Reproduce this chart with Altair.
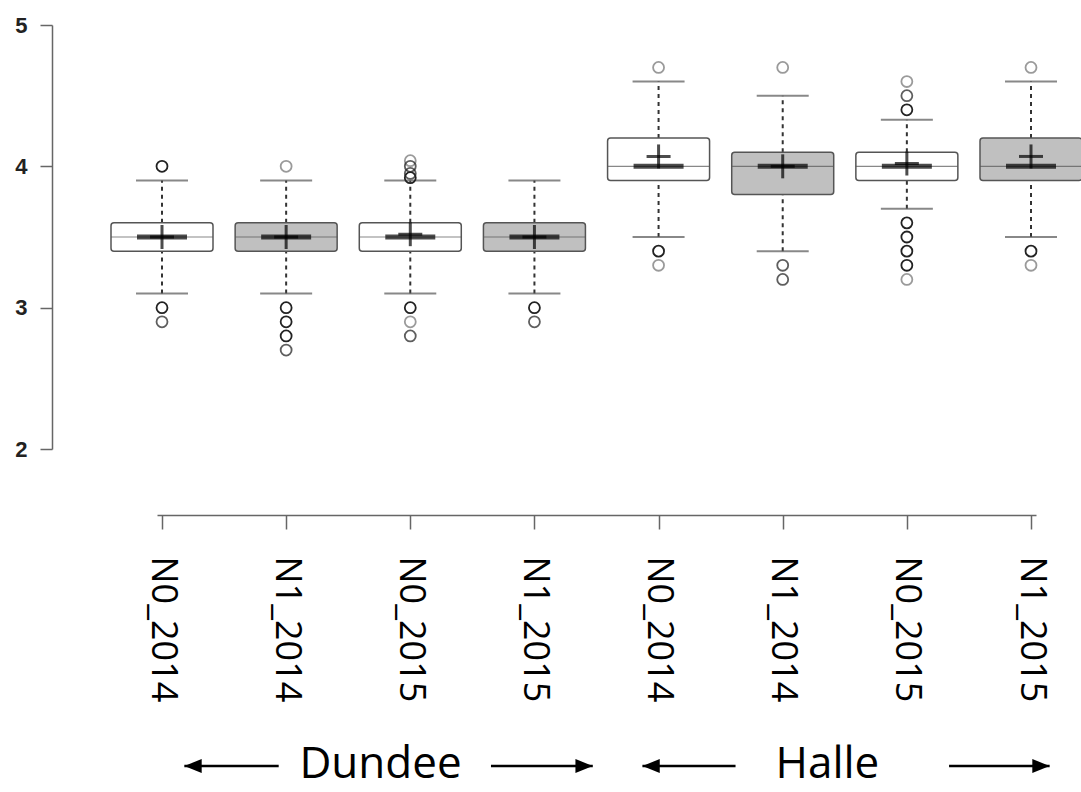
import json
import altair as alt
import pandas as pd

# Box-plot summaries, one entry per site / treatment / year
sites = ["Dundee", "Dundee", "Dundee", "Dundee", "Halle", "Halle", "Halle", "Halle"]
labels = ["N0_2014", "N1_2014", "N0_2015", "N1_2015",
          "N0_2014", "N1_2014", "N0_2015", "N1_2015"]
q1 = [3.4, 3.4, 3.4, 3.4, 3.9, 3.8, 3.9, 3.9]
q3 = [3.6, 3.6, 3.6, 3.6, 4.2, 4.1, 4.1, 4.2]
medians = [3.5, 3.5, 3.5, 3.5, 4.0, 4.0, 4.0, 4.0]
means = [3.5, 3.5, 3.52, 3.5, 4.07, 4.0, 4.02, 4.07]
whisker_low = [3.1, 3.1, 3.1, 3.1, 3.5, 3.4, 3.7, 3.5]
whisker_high = [3.9, 3.9, 3.9, 3.9, 4.6, 4.5, 4.33, 4.6]

# Outlying observations: box number, value, number of coinciding points
outlier_box = [1, 1, 1,
               2, 2, 2, 2, 2,
               3, 3, 3, 3, 3, 3, 3,
               4, 4,
               5, 5, 5,
               6, 6, 6,
               7, 7, 7, 7, 7, 7, 7, 7,
               8, 8, 8]
outlier_value = [4.0, 3.0, 2.9,
                 4.0, 3.0, 2.9, 2.8, 2.7,
                 4.04, 4.0, 3.95, 3.92, 3.0, 2.9, 2.8,
                 3.0, 2.9,
                 4.7, 3.4, 3.3,
                 4.7, 3.3, 3.2,
                 4.6, 4.5, 4.4, 3.6, 3.5, 3.4, 3.3, 3.2,
                 4.7, 3.4, 3.3]
outlier_count = [3, 3, 2,
                 1, 3, 3, 3, 2,
                 1, 2, 2, 3, 3, 1, 2,
                 3, 2,
                 1, 3, 1,
                 1, 2, 2,
                 1, 2, 3, 3, 3, 3, 3, 1,
                 1, 3, 1]

# Site annotation under the axis: label centre and the two arrows (tail, tip)
region_names = ["Dundee", "Halle"]
region_centre = [2.76, 6.36]
left_arrow_tip = [1.18, 4.87]
left_arrow_tail = [1.94, 5.62]
right_arrow_tail = [3.65, 7.34]
right_arrow_tip = [4.47, 8.15]

boxes = pd.DataFrame({
    "pos": list(range(1, len(labels) + 1)),
    "site": sites,
    "label": labels,
    "treatment": [s.split("_")[0] for s in labels],
    "q1": q1, "q3": q3, "median": medians, "mean": means,
    "lo": whisker_low, "hi": whisker_high,
})
outliers = pd.DataFrame({"pos": outlier_box, "value": outlier_value,
                         "count": outlier_count})
regions = pd.DataFrame({
    "name": region_names, "centre": region_centre,
    "ltip": left_arrow_tip, "ltail": left_arrow_tail,
    "rtail": right_arrow_tail, "rtip": right_arrow_tip,
})

label_expr = json.dumps(labels) + "[datum.value - 1]"

x_scale = alt.Scale(domain=[1, 8], nice=False, zero=False)
y_scale = alt.Scale(domain=[2, 5], nice=False, zero=False)

x_axis = alt.Axis(values=list(range(1, 9)), labelExpr=label_expr, title=None,
                  offset=66, tickSize=14, labelAngle=90, labelPadding=27,
                  labelFont="Open Sans", labelFontSize=36, labelColor="#000",
                  domainColor="#666", tickColor="#666", domainWidth=1.5,
                  tickWidth=1.5, grid=False, labelFlush=False, labelOverlap=False)
y_axis = alt.Axis(values=[2, 3, 4, 5], format="d", title=None, offset=105,
                  tickSize=12, labelPadding=13, labelFont="Liberation Sans",
                  labelFontSize=22, labelFontWeight="bold", labelColor="#222",
                  domainColor="#666", tickColor="#666", domainWidth=1.5,
                  tickWidth=1.5, grid=False)

X = alt.X("pos:Q", scale=x_scale, axis=x_axis)
base = alt.Chart(boxes)

upper_whisker = base.mark_rule(color="#333", strokeWidth=2, strokeDash=[4, 4]).encode(
    x=X, y=alt.Y("q3:Q", scale=y_scale, axis=y_axis), y2="hi:Q")
lower_whisker = base.mark_rule(color="#333", strokeWidth=2, strokeDash=[4, 4]).encode(
    x="pos:Q", y="lo:Q", y2="q1:Q")
caps_hi = base.mark_tick(orient="horizontal", size=52, thickness=2, color="#555").encode(
    x="pos:Q", y="hi:Q")
caps_lo = base.mark_tick(orient="horizontal", size=52, thickness=2, color="#555").encode(
    x="pos:Q", y="lo:Q")
box = base.mark_bar(size=102, stroke="#555", strokeWidth=1.5, cornerRadius=3).encode(
    x="pos:Q", y="q1:Q", y2="q3:Q",
    fill=alt.Fill("treatment:N", scale=alt.Scale(domain=["N0", "N1"],
                                                 range=["#ffffff", "#c0c0c0"]),
                  legend=None))
median_thin = base.mark_tick(orient="horizontal", size=102, thickness=1.2,
                             color="#555").encode(x="pos:Q", y="median:Q")
median_thick = base.mark_tick(orient="horizontal", size=50, thickness=5,
                              color="#000").encode(x="pos:Q", y="median:Q")
mean_h = base.mark_tick(orient="horizontal", size=24, thickness=3,
                        color="#000").encode(x="pos:Q", y="mean:Q")
mean_v = base.mark_tick(orient="vertical", size=24, thickness=3,
                        color="#000").encode(x="pos:Q", y="mean:Q")

outlier_pts = alt.Chart(outliers).mark_point(shape="circle", filled=False, size=120,
                                             strokeWidth=1.8, color="#222").encode(
    x="pos:Q", y="value:Q",
    opacity=alt.Opacity("count:Q", scale=alt.Scale(domain=[1, 3], range=[0.45, 1.0]),
                        legend=None))

rbase = alt.Chart(regions)
arrow_y = alt.value(741)
left_shaft = rbase.mark_rule(color="#000", strokeWidth=2.5).encode(
    x="ltip:Q", x2="ltail:Q", y=arrow_y)
right_shaft = rbase.mark_rule(color="#000", strokeWidth=2.5).encode(
    x="rtail:Q", x2="rtip:Q", y=arrow_y)
left_head = rbase.mark_point(shape="M0,0L2,-0.8L2,0.8Z", filled=True, size=300,
                             color="#000", opacity=1).encode(x="ltip:Q", y=arrow_y)
right_head = rbase.mark_point(shape="M0,0L-2,-0.8L-2,0.8Z", filled=True, size=300,
                              color="#000", opacity=1).encode(x="rtip:Q", y=arrow_y)
region_text = rbase.mark_text(font="Open Sans", fontSize=44, color="#000",
                              baseline="middle", align="center").encode(
    x="centre:Q", y=alt.value(740), text="name:N")

chart = alt.layer(
    upper_whisker, lower_whisker, caps_hi, caps_lo, box, median_thin,
    median_thick, mean_h, mean_v, outlier_pts,
    left_shaft, right_shaft, left_head, right_head, region_text,
).properties(
    width=879, height=424,
    autosize=alt.AutoSizeParams(type="none"),
    padding={"left": 157, "top": 25, "right": 45, "bottom": 343},
    background="#ffffff",
).configure_view(stroke=None)

chart.save("out.html", embed_options={"renderer": "svg", "actions": False})
